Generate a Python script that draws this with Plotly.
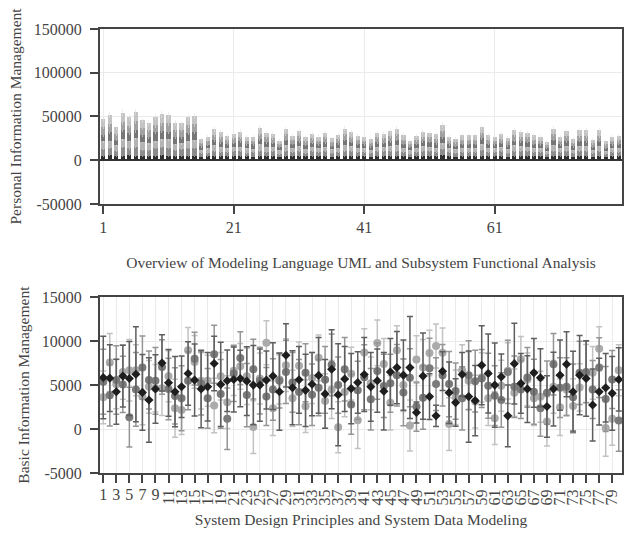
import plotly.graph_objects as go

# ---------------- data ----------------
cats = list(range(1, 81))

# top chart: stacked segments (6 series)
s0 = [5000,5500,4500,5000,5500,5000,5000,4500,5000,5500,5000,5000,4500,5000,5000,4000,4500,5000,4500,4500,
      5000,4500,4500,4000,5000,4500,5000,4000,5000,4500,5000,4500,5000,4500,5000,4000,4500,5000,5000,4500,
      4500,4000,5000,5000,5000,5000,4500,4000,4500,5000,5000,4500,5500,4500,4000,4500,4500,5000,5000,4500,
      4500,5000,4000,5000,5000,5000,4500,4500,4000,5000,4500,5000,4000,5000,5000,4000,5000,4000,4500,4500]
s1 = [8000,9000,6000,10000,8000,10000,7000,7000,9000,10000,9000,7000,8000,9000,9000,4000,4000,6000,5000,5000,
      5000,6000,4000,5000,6000,5000,5000,3500,6000,4500,5500,4000,5000,4500,5000,4000,5000,6000,5500,4500,
      4500,4000,5000,5000,5500,6000,5000,3500,4500,5500,5500,5000,7000,4500,4000,5000,4500,4500,6500,5000,
      4500,5000,4500,6000,5500,5500,5000,4500,3500,6000,4500,5500,4000,6000,5500,4000,5500,3500,4500,4500]
s2 = [9000,8000,7000,9000,9000,10000,9000,8000,8000,9000,10000,7000,7000,8000,9000,4000,5000,6000,6000,4000,
      5000,5000,5000,4000,7000,6000,5000,4000,6000,5000,6000,4500,5000,4500,5500,4500,5000,6500,5500,5000,
      4500,4000,5500,5000,6000,6500,4500,4000,5000,5500,5000,5000,7000,4500,4500,4500,5000,5000,6500,4500,
      4500,5000,4500,6000,5500,5000,4500,4500,3500,6500,4500,6000,4000,5500,6000,4000,6000,3500,4500,5000]
s3 = [7000,10000,6000,11000,9000,9000,8000,7000,10000,9000,8000,8000,7000,9000,9000,4000,4000,6000,5000,5000,
      5000,6000,4500,5000,6000,5000,5000,3500,6500,4500,5500,4500,5000,4500,5000,4000,5000,6000,5000,4500,
      4500,4000,5000,5000,5500,6000,5000,3500,4500,5500,5500,5000,7000,4500,4000,5000,4500,4500,7000,5000,
      4500,5000,4000,5500,5500,5500,5000,4500,3500,6000,4500,5500,4000,6000,5500,3500,6000,3500,4500,4500]
s4 = [9000,9000,7000,9000,8000,11000,8000,8000,8000,9000,10000,8000,8000,9000,9000,4000,5000,6000,6000,4500,
      5000,5000,4500,4500,6500,5500,5000,3500,6000,5000,5500,4500,5000,4500,5500,4500,4500,6500,5500,5000,
      4500,4000,5500,5000,5500,6500,4500,3500,4500,5500,5000,5000,7000,4000,4000,4500,5000,4500,6500,4500,
      4500,4500,4500,6000,5000,5000,4500,4000,3000,6500,4500,5500,4000,5500,6000,4000,5500,3500,4500,4500]
s5 = [8600,10400,7000,10200,9400,10000,8500,7500,9600,9800,9200,7800,7500,8900,9400,3900,4000,6200,5700,4700,
      5300,6100,4400,4400,6600,5500,4900,3500,5700,4500,5500,4000,5000,4500,5000,4000,5000,6000,5500,4500,
      4500,4000,5000,5000,5500,6000,4900,3500,4700,5600,5500,5100,6700,4500,4100,4900,4900,4900,6400,4900,
      4400,5100,4300,6000,5700,5500,4900,4500,3300,6000,4400,5500,4300,6100,6100,4000,6100,3600,4400,4700]
top_series = [s0, s1, s2, s3, s4, s5]
top_names = ["S1", "S2", "S3", "S4", "S5", "S6"]

# bottom chart: three series with error bars
dark_vals = [5870,5790,4250,6020,5750,6240,4170,3310,4550,7520,5260,4250,4810,6320,5570,4550,4810,7450,5080,5490,
             5640,5750,5450,5000,5000,5570,6020,4250,8390,4700,5600,4400,5100,6100,4000,6800,3900,5700,4600,5300,
             6200,4800,5500,4300,6500,6990,6130,6990,1880,6020,3690,1500,6580,4140,3010,6200,3690,3230,7260,6320,
             5000,5940,1500,7440,5190,4550,6390,5830,2560,4550,6130,7370,4250,6130,5750,2740,4250,4700,4060,5640]
mid_vals = [5380,3840,5570,5080,1350,4510,6990,5570,5490,7070,4550,3760,3500,5500,8010,5190,3500,8500,4000,1170,
            6320,8080,3870,6810,5500,3690,4510,5500,6500,5300,4200,6400,3900,4700,5600,7300,5000,6800,2800,4400,
            5900,3400,6600,4900,5200,6130,4170,5830,2560,3570,6920,5110,6130,5110,4320,3500,6130,5450,5750,4930,
            3800,3310,6500,4810,4510,5870,4250,2370,4140,7370,4700,4810,3610,6390,6500,4510,6990,3420,5640,980]
light_vals = [3610,7560,5100,6500,6690,6690,3690,4810,4630,4630,6000,2370,2180,8950,7630,5490,5490,2670,6000,3050,
              6620,7140,6000,230,5750,9810,2370,5640,7260,3500,7200,2600,5800,8100,3200,4500,200,4200,6300,1000,
              8700,5200,9800,7400,3000,8950,5000,410,7900,6990,8650,9440,8690,560,3610,6690,5490,3120,5870,3500,
              1240,4930,6620,4140,7930,5640,3500,3680,860,4810,2480,4510,2630,4740,6320,6390,9140,110,1170,6690]
dark_err = [4700,3800,3700,3500,4200,5400,4300,4800,3900,3200,3800,4000,3500,3600,4100,4400,3900,3100,4800,3500,
            3700,3200,3900,4500,4100,3300,3800,4400,3600,4200,3800,4100,3600,4300,3900,4500,5800,3700,4000,3500,
            4200,3900,3600,4400,3800,4100,4000,5800,1200,4900,2600,1200,2200,3500,2700,2500,5200,4000,4500,4500,
            4800,2600,3500,4600,3400,3800,3900,3300,3500,4200,4000,3700,4600,4500,4300,4100,3800,3900,4200,3600]
mid_err = [3700,3500,3900,3200,3400,4200,3600,3300,3800,3100,3500,3200,3700,3300,3000,3600,3400,3300,3900,3500,
           3200,3000,3600,3400,3800,3300,3500,3100,3600,3400,3700,3300,3500,3200,3800,3500,3200,3600,3400,3300,
           3700,3500,3200,3600,3300,3500,3800,3300,2800,3600,3400,3000,3500,3700,3200,3600,3900,3500,3300,3700,
           3400,3100,3600,3500,3300,3400,3700,3200,3600,3500,3400,3300,3800,3600,3500,3300,3400,3700,3300,3500]
light_err = [3000,3300,2800,3100,3500,2900,3200,3000,2700,3100,2900,3300,2800,2600,3000,3200,2900,3100,2700,3000,
             2800,2600,3200,3000,2900,2500,3100,2800,3000,3200,2700,3000,2900,2600,3100,3300,2900,2800,3000,3200,
             2700,3000,2600,2900,3100,2800,3000,2900,2700,3200,2600,2500,2800,3000,3100,2900,3300,3000,2800,3100,
             3000,2900,3200,2700,2600,3000,3100,2900,2800,3000,3200,2900,3100,2700,3300,3000,2500,3200,3000,2900]

top_ticks = [1, 21, 41, 61]
bottom_ticks = list(range(1, 80, 2))
top_yticks = [-50000, 0, 50000, 100000, 150000]
bottom_yticks = [-5000, 0, 5000, 10000, 15000]

# ---------------- styling ----------------
FONT = "Liberation Serif"
TXT = "#444444"
AX = "#444444"
GRID = "#ebebeb"
seg_colors = ["#2e2e2e", "#8c8c8c", "#b4b4b4", "#767676", "#a1a1a1", "#c4c4c4"]

fig = go.Figure()

for vals, name, col in zip(top_series, top_names, seg_colors):
    fig.add_trace(go.Bar(
        x=cats, y=vals, name=name, marker=dict(color=col, line=dict(width=0)),
        error_y=dict(type="percent", value=6, color="rgba(225,225,225,0.6)", thickness=1, width=0.5),
        xaxis="x", yaxis="y", showlegend=False))

fig.add_trace(go.Scatter(
    x=cats, y=light_vals, mode="markers", xaxis="x2", yaxis="y2", showlegend=False,
    marker=dict(color="#ababab", size=8, symbol="circle"),
    error_y=dict(type="data", array=light_err, color="#c2c2c2", thickness=1.5, width=3)))
fig.add_trace(go.Scatter(
    x=cats, y=mid_vals, mode="markers", xaxis="x2", yaxis="y2", showlegend=False,
    marker=dict(color="#7a7a7a", size=8, symbol="circle"),
    error_y=dict(type="data", array=mid_err, color="#959595", thickness=1.5, width=3)))
fig.add_trace(go.Scatter(
    x=cats, y=dark_vals, mode="markers", xaxis="x3", yaxis="y2", showlegend=False,
    marker=dict(color="#1e1e1e", size=7, symbol="diamond"),
    error_y=dict(type="data", array=dark_err, color="#5e5e5e", thickness=1.5, width=3)))

tickfont = dict(family=FONT, size=16, color=TXT)
titlefont = dict(family=FONT, size=15.5, color=TXT)
xr = [0.5, 80.5]

fig.update_layout(
    width=624, height=537,
    margin=dict(l=100, r=0, t=29, b=64),
    paper_bgcolor="white", plot_bgcolor="white",
    barmode="stack", bargap=0.35,
    font=dict(family=FONT, color=TXT),
    xaxis=dict(domain=[0, 1], anchor="y", range=xr, tickvals=top_ticks,
               ticktext=[str(v) for v in top_ticks], tickangle=0,
               ticks="outside", ticklen=8, tickwidth=2, tickcolor=AX,
               showline=True, linecolor=AX, linewidth=2, mirror=True,
               showgrid=True, gridcolor=GRID, zeroline=False,
               tickfont=tickfont,
               title=dict(text="Overview of Modeling Language UML and Subsystem Functional Analysis",
                          font=titlefont, standoff=22)),
    yaxis=dict(domain=[0.606, 1.0], anchor="x", range=[-50000, 150000],
               tickvals=top_yticks, ticktext=[str(v) for v in top_yticks],
               ticks="outside", ticklen=8, tickwidth=2, tickcolor=AX, ticklabelstandoff=5,
               showline=True, linecolor=AX, linewidth=2, mirror=True,
               showgrid=True, gridcolor=GRID,
               zeroline=True, zerolinecolor="#333333", zerolinewidth=2,
               tickfont=tickfont,
               title=dict(text="Personal Information Management", font=titlefont, standoff=8)),
    xaxis2=dict(domain=[0, 1], anchor="y2", range=xr, tickvals=bottom_ticks,
                ticktext=[str(v) if v >= 10 else "" for v in bottom_ticks], tickangle=-90,
                ticks="outside", ticklen=8, tickwidth=2, tickcolor=AX,
                showline=True, linecolor=AX, linewidth=2, mirror=True,
                showgrid=True, gridcolor=GRID, zeroline=False,
                tickfont=tickfont,
                title=dict(text="System Design Principles and System Data Modeling",
                           font=titlefont, standoff=10)),
    xaxis3=dict(overlaying="x2", anchor="y2", side="bottom", range=xr,
                tickvals=[v for v in bottom_ticks if v < 10],
                ticktext=[str(v) for v in bottom_ticks if v < 10], tickangle=0,
                ticks="", showline=False, showgrid=False, zeroline=False,
                ticklabelstandoff=10,
                tickfont=tickfont),
    yaxis2=dict(domain=[0, 0.396], anchor="x2", range=[-5000, 15000],
                tickvals=bottom_yticks, ticktext=[str(v) for v in bottom_yticks],
                ticks="outside", ticklen=8, tickwidth=2, tickcolor=AX, ticklabelstandoff=5,
                showline=True, linecolor=AX, linewidth=2, mirror=True,
                showgrid=True, gridcolor=GRID,
                zeroline=True, zerolinecolor=GRID, zerolinewidth=1,
                tickfont=tickfont,
                title=dict(text="Basic Information Management", font=titlefont, standoff=8)),
)

fig.write_html("out.html")
